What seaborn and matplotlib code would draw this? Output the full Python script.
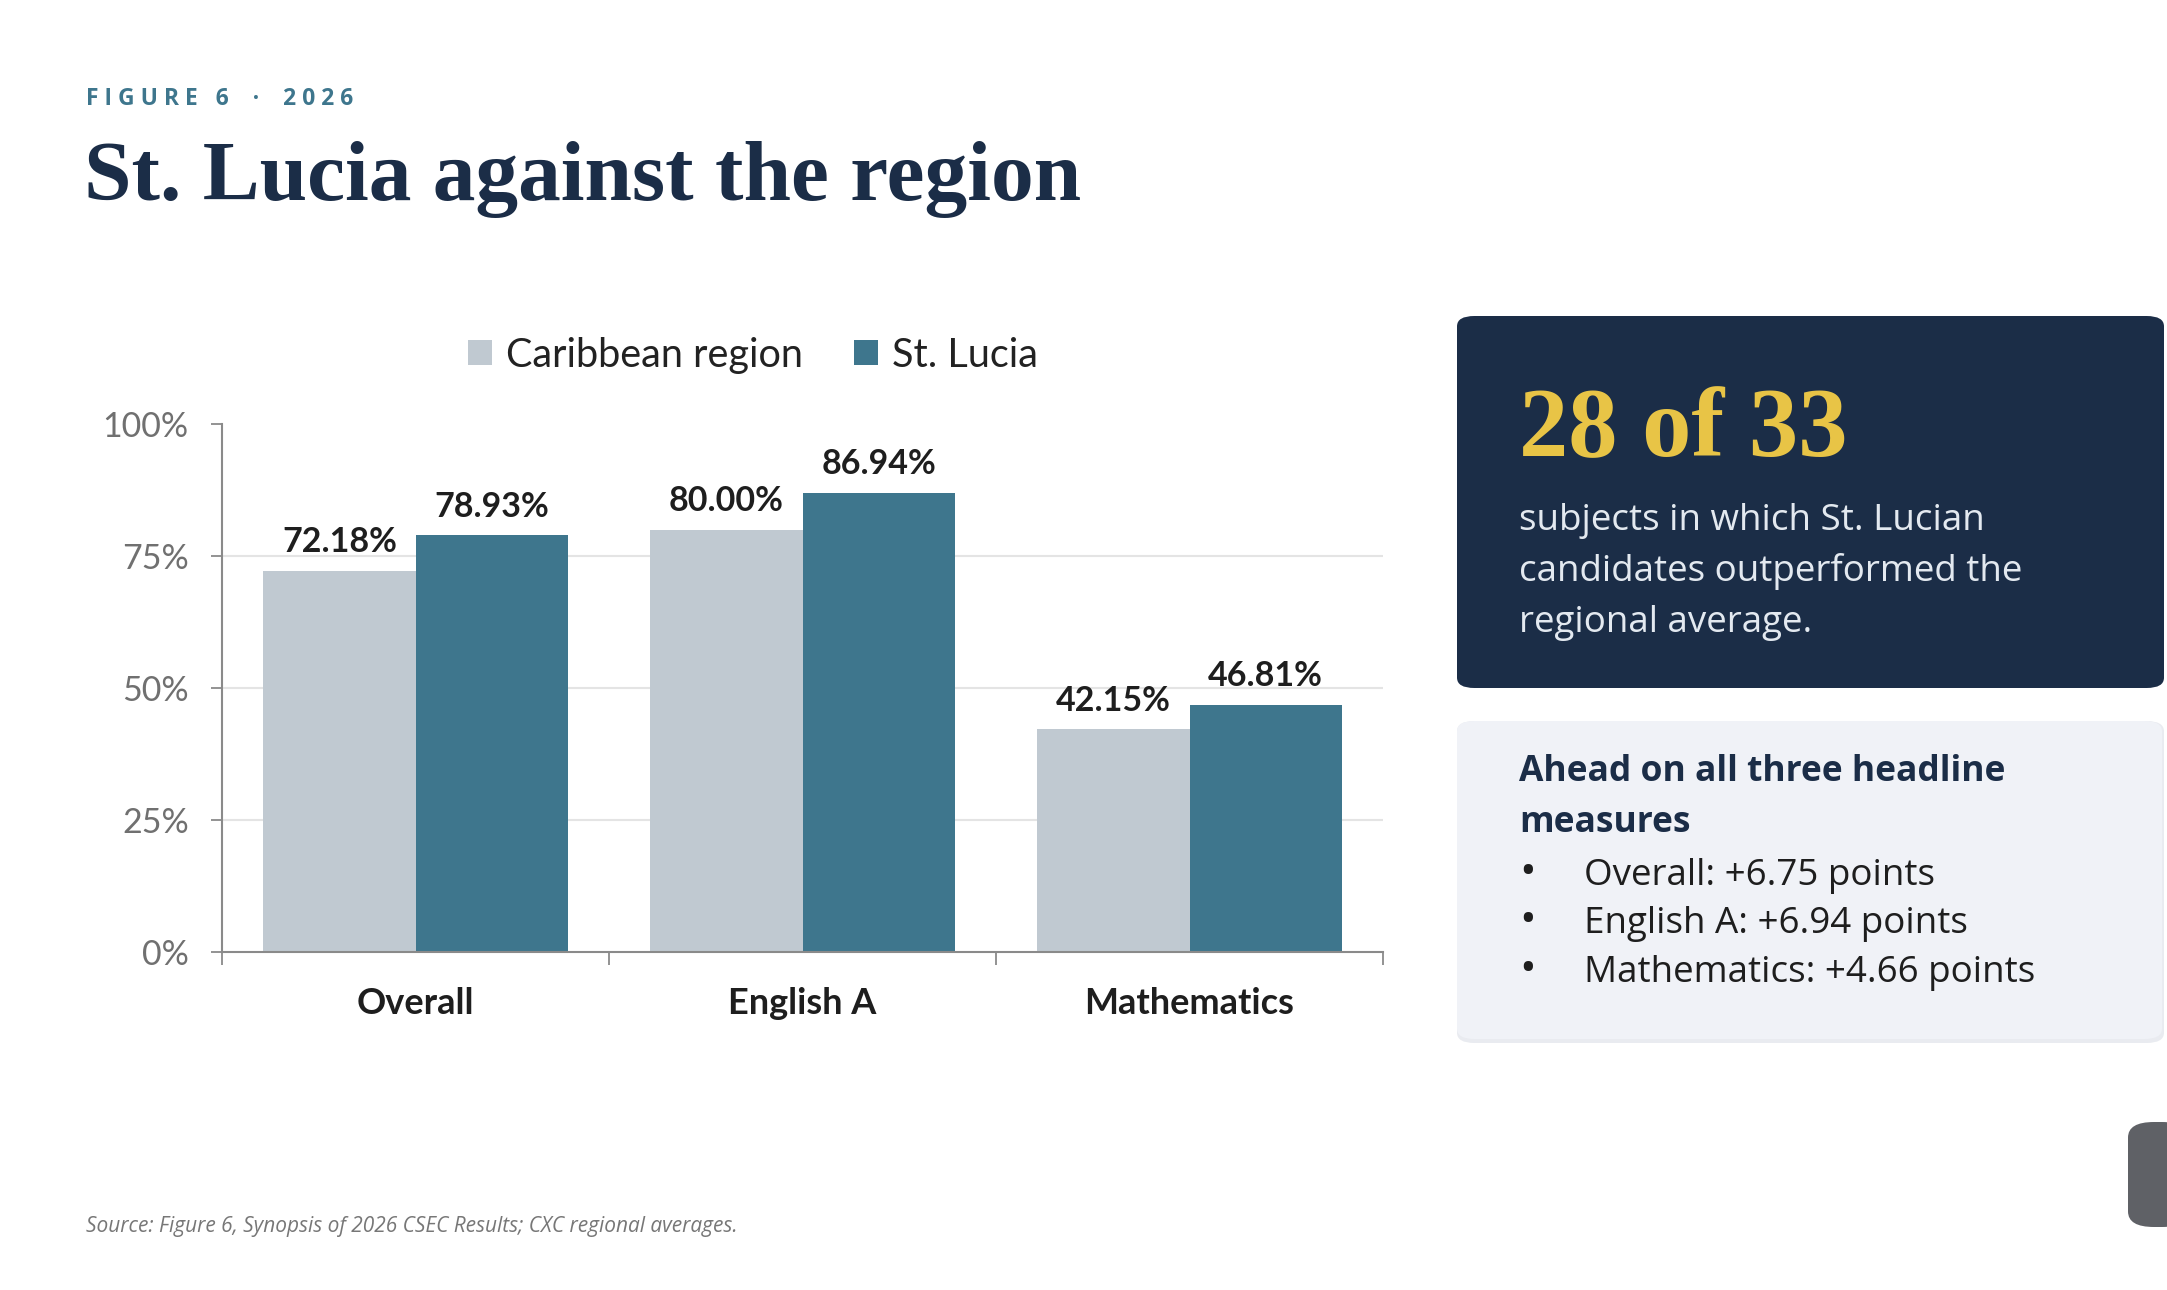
import matplotlib
matplotlib.use("Agg")
import matplotlib.pyplot as plt
from matplotlib.patches import FancyBboxPatch, Patch
import seaborn as sns
import pandas as pd

# ---- data ----
categories = ["Overall", "English A", "Mathematics"]
series_names = ["Caribbean region", "St. Lucia"]
caribbean = [72.18, 80.00, 42.15]
st_lucia = [78.93, 86.94, 46.81]
y_ticks = [0, 25, 50, 75, 100]
y_tick_labels = ["0%", "25%", "50%", "75%", "100%"]
bullets = ["Overall: +6.75 points", "English A: +6.94 points", "Mathematics: +4.66 points"]
callout_big = "28 of 33"
callout_lines = ["subjects in which St. Lucian", "candidates outperformed the", "regional average."]
heading_lines = ["Ahead on all three headline", "measures"]

GRAY = "#c0c9d1"
TEAL = "#3e768d"
NAVY = "#1b2d47"
GOLD = "#e8c446"

sns.set_theme(style="white")
plt.rcParams["font.family"] = ["Lato", "DejaVu Sans"]
SANS2 = ["Open Sans", "DejaVu Sans"]

df = pd.DataFrame({
    "category": categories * 2,
    "series": [series_names[0]] * 3 + [series_names[1]] * 3,
    "value": caribbean + st_lucia,
})

W, H = 2167, 1290
fig = plt.figure(figsize=(W / 100, H / 100), dpi=100)
fig.patch.set_facecolor("white")

ax = fig.add_axes([222 / W, 1 - 952 / H, (1383 - 222) / W, (952 - 424) / H])
sns.barplot(data=df, x="category", y="value", hue="series",
            palette=[GRAY, TEAL], width=0.786, linewidth=0, saturation=1,
            legend=False, ax=ax)

for cont in ax.containers:
    ax.bar_label(cont, labels=[f"{v:.2f}%" for v in cont.datavalues],
                 padding=9, fontsize=24.5, fontweight="bold", color="#1e1e1e",
                 family=["Lato", "DejaVu Sans"])

ax.set_xlim(-0.5, 2.5)
ax.set_ylim(0, 100)
ax.set_yticks(y_ticks)
ax.set_yticklabels(y_tick_labels)
ax.set_xlabel("")
ax.set_ylabel("")
ax.tick_params(axis="y", length=8, width=1.3, color="#8a8a8a", pad=16,
               labelsize=24.5, labelcolor="#707070", direction="out", left=True)
ax.tick_params(axis="x", which="major", length=0, pad=25, labelsize=26,
               labelcolor="#1e1e1e")
ax.set_xticks([-0.5, 0.5, 1.5, 2.5], minor=True)
ax.tick_params(axis="x", which="minor", length=9, width=1.3, color="#8a8a8a",
               direction="out", bottom=True)
for lab in ax.get_xticklabels():
    lab.set_fontweight("bold")

ax.yaxis.grid(True, color="#e4e4e4", linewidth=1.5)
ax.set_axisbelow(True)
ygl = ax.get_ygridlines()
ygl[0].set_visible(False)
ygl[-1].set_visible(False)
for s in ["top", "right"]:
    ax.spines[s].set_visible(False)
for s in ["left", "bottom"]:
    ax.spines[s].set_color("#8a8a8a")
    ax.spines[s].set_linewidth(1.5)

handles = [Patch(facecolor=GRAY, edgecolor="none"), Patch(facecolor=TEAL, edgecolor="none")]
fig.legend(handles, series_names, loc="center", bbox_to_anchor=(753 / W, 1 - 355 / H),
           ncol=2, frameon=False, fontsize=28.5, handlelength=0.6, handleheight=0.6,
           handletextpad=0.35, columnspacing=1.3, labelcolor="#222222")

# ---- header ----
fig.text(86 / W, 1 - 105 / H, "F I G U R E   6    ·    2 0 2 6", fontsize=16.5,
         fontweight="bold", color="#3e768d", family=SANS2,
         va="baseline", ha="left")
fig.text(84 / W, 1 - 200 / H, "St. Lucia against the region", fontsize=61.5,
         fontweight="bold", color=NAVY, family=["Liberation Serif", "DejaVu Serif"],
         va="baseline", ha="left")

# ---- callout panels ----
dark = FancyBboxPatch((1457 / W, 1 - 688 / H), (2164 - 1457) / W, (688 - 316) / H,
                      boxstyle="round,pad=0,rounding_size=0.008",
                      transform=fig.transFigure, facecolor=NAVY, edgecolor="none")
fig.patches.append(dark)
shadow = FancyBboxPatch((1457 / W, 1 - 1043 / H), (2164 - 1457) / W, (1043 - 721) / H,
                        boxstyle="round,pad=0,rounding_size=0.008",
                        transform=fig.transFigure, facecolor="#e9ebf0", edgecolor="none")
fig.patches.append(shadow)
light = FancyBboxPatch((1457 / W, 1 - 1039 / H), (2162 - 1457) / W, (1039 - 721) / H,
                       boxstyle="round,pad=0,rounding_size=0.008",
                       transform=fig.transFigure, facecolor="#f0f2f7", edgecolor="none")
fig.patches.append(light)

fig.text(1519 / W, 1 - 456 / H, callout_big, fontsize=71, fontweight="bold",
         color=GOLD, family=["Liberation Serif", "DejaVu Serif"], va="baseline")
for i, line in enumerate(callout_lines):
    fig.text(1519 / W, 1 - (530 + 51 * i) / H, line, fontsize=26.5, color="#e3e9f0",
             family=SANS2, va="baseline")
for i, line in enumerate(heading_lines):
    fig.text(1519 / W, 1 - (781 + 51 * i) / H, line, fontsize=25.5, fontweight="bold",
             color=NAVY, family=SANS2, va="baseline")
for i, line in enumerate(bullets):
    yb = 1 - (885 + 48.5 * i) / H
    fig.text(1519 / W, yb, "•", fontsize=32, color="#1e1e1e",
             family=SANS2, va="baseline")
    fig.text(1584 / W, yb, line, fontsize=26.5, color="#1e1e1e",
             family=SANS2, va="baseline")

fig.text(86 / W, 1 - 1232 / H,
         "Source: Figure 6, Synopsis of 2026 CSEC Results; CXC regional averages.",
         fontsize=15, style="italic", color="#777777",
         family=SANS2, va="baseline")

# small UI artefact at bottom right edge
ui = FancyBboxPatch((2128 / W, 1 - 1227 / H), 60 / W, 105 / H,
                    boxstyle="round,pad=0,rounding_size=0.012",
                    transform=fig.transFigure, facecolor="#5f6166", edgecolor="none")
fig.patches.append(ui)

fig.savefig("out.png", dpi=100, facecolor="white")
